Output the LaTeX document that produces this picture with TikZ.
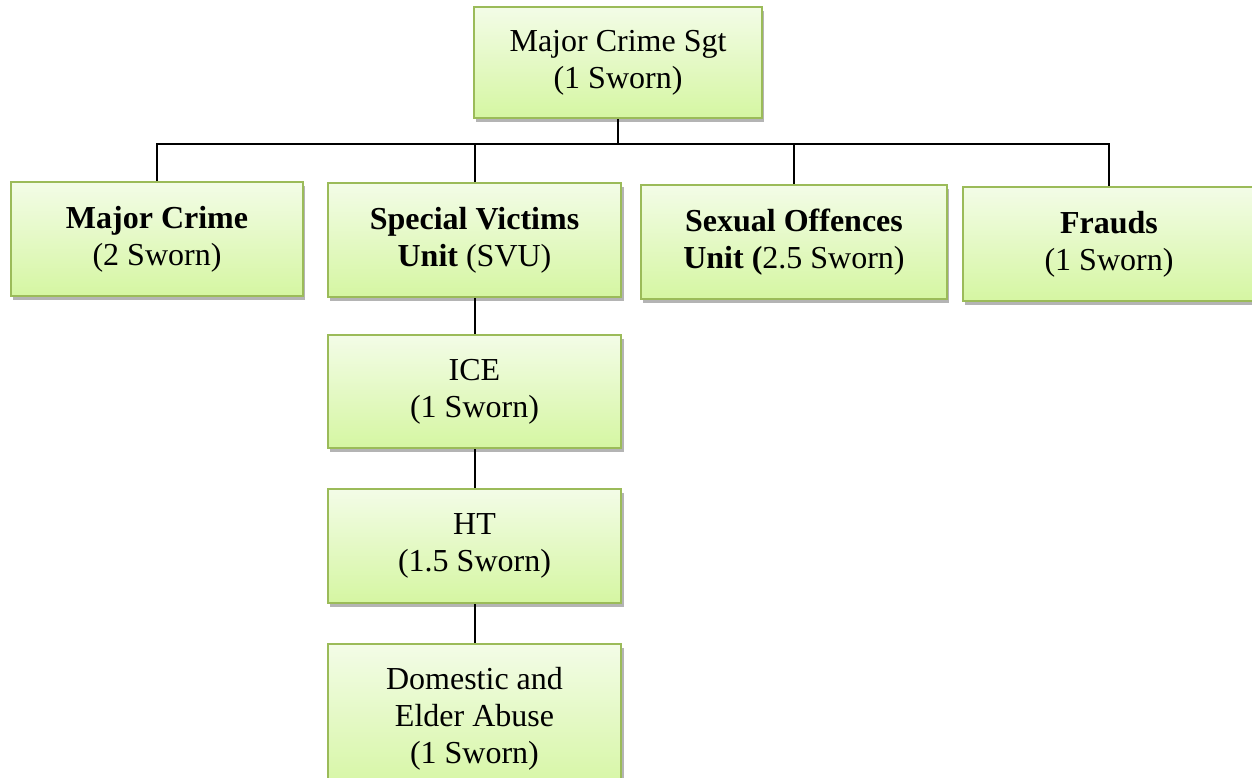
\documentclass[tikz,border=0pt]{standalone}
\usepackage{fontspec}
\setmainfont{Liberation Serif}
\usepackage{tikz}
\usetikzlibrary{shadows,calc}
\definecolor{crimeline}{HTML}{9BBB59}
\definecolor{crimetop}{HTML}{F3FCE7}
\definecolor{crimebot}{HTML}{D5F6A2}
\tikzset{
  cr/box/.style={
    draw=crimeline, line width=0.75pt, top color=crimetop, bottom color=crimebot,
    align=center, inner sep=2pt, font=\fontsize{12}{13.8}\selectfont,
    minimum width=109.5pt, minimum height=42.75pt,
    drop shadow={shadow xshift=0.9pt, shadow yshift=-1.4pt, opacity=0.45, fill=black!65}
  },
  cr/link/.style={black, line width=0.75pt}
}

\begin{document}
\begin{tikzpicture}[x=0.375pt, y=-0.375pt]
  \clip (0,0) rectangle (1252,778);
  \fill[white] (0,0) rectangle (1252,778);
  % top level
  \node[cr/box, minimum width=108pt, minimum height=41.6pt] (sgt) at (618,62.5)
    {Major Crime Sgt\\(1 Sworn)};
  % units
  \node[cr/box] (major) at (157,239) {\textbf{Major Crime}\\(2 Sworn)};
  \node[cr/box, minimum width=110pt] (svu) at (474.5,240)
    {\textbf{Special Victims}\\\textbf{Unit} (SVU)};
  \node[cr/box, minimum width=114.75pt] (sexual) at (794,242)
    {\textbf{Sexual Offences}\\\textbf{Unit (}2.5 Sworn)};
  \node[cr/box] (frauds) at (1109,244) {\textbf{Frauds}\\(1 Sworn)};
  % svu chain
  \node[cr/box, minimum width=110pt, minimum height=42.4pt] (ice) at (474.5,391.5)
    {ICE\\(1 Sworn)};
  \node[cr/box, minimum width=110pt] (ht) at (474.5,546) {HT\\(1.5 Sworn)};
  \node[cr/box, minimum width=110pt, minimum height=56.25pt, anchor=north] (abuse) at (474.5,643)
    {Domestic and\\Elder Abuse\\(1 Sworn)};

  \coordinate (bus) at (617,144);
  \draw[cr/link] (sgt.south) -- (sgt.south |- bus);
  \draw[cr/link] (major.north) |- (bus) -| (frauds.north);
  \draw[cr/link] (svu.north) -- (svu.north |- bus);
  \draw[cr/link] (sexual.north) -- (sexual.north |- bus);
  \draw[cr/link] (svu) -- (ice);
  \draw[cr/link] (ice) -- (ht);
  \draw[cr/link] (ht) -- (abuse);
\end{tikzpicture}
\end{document}
